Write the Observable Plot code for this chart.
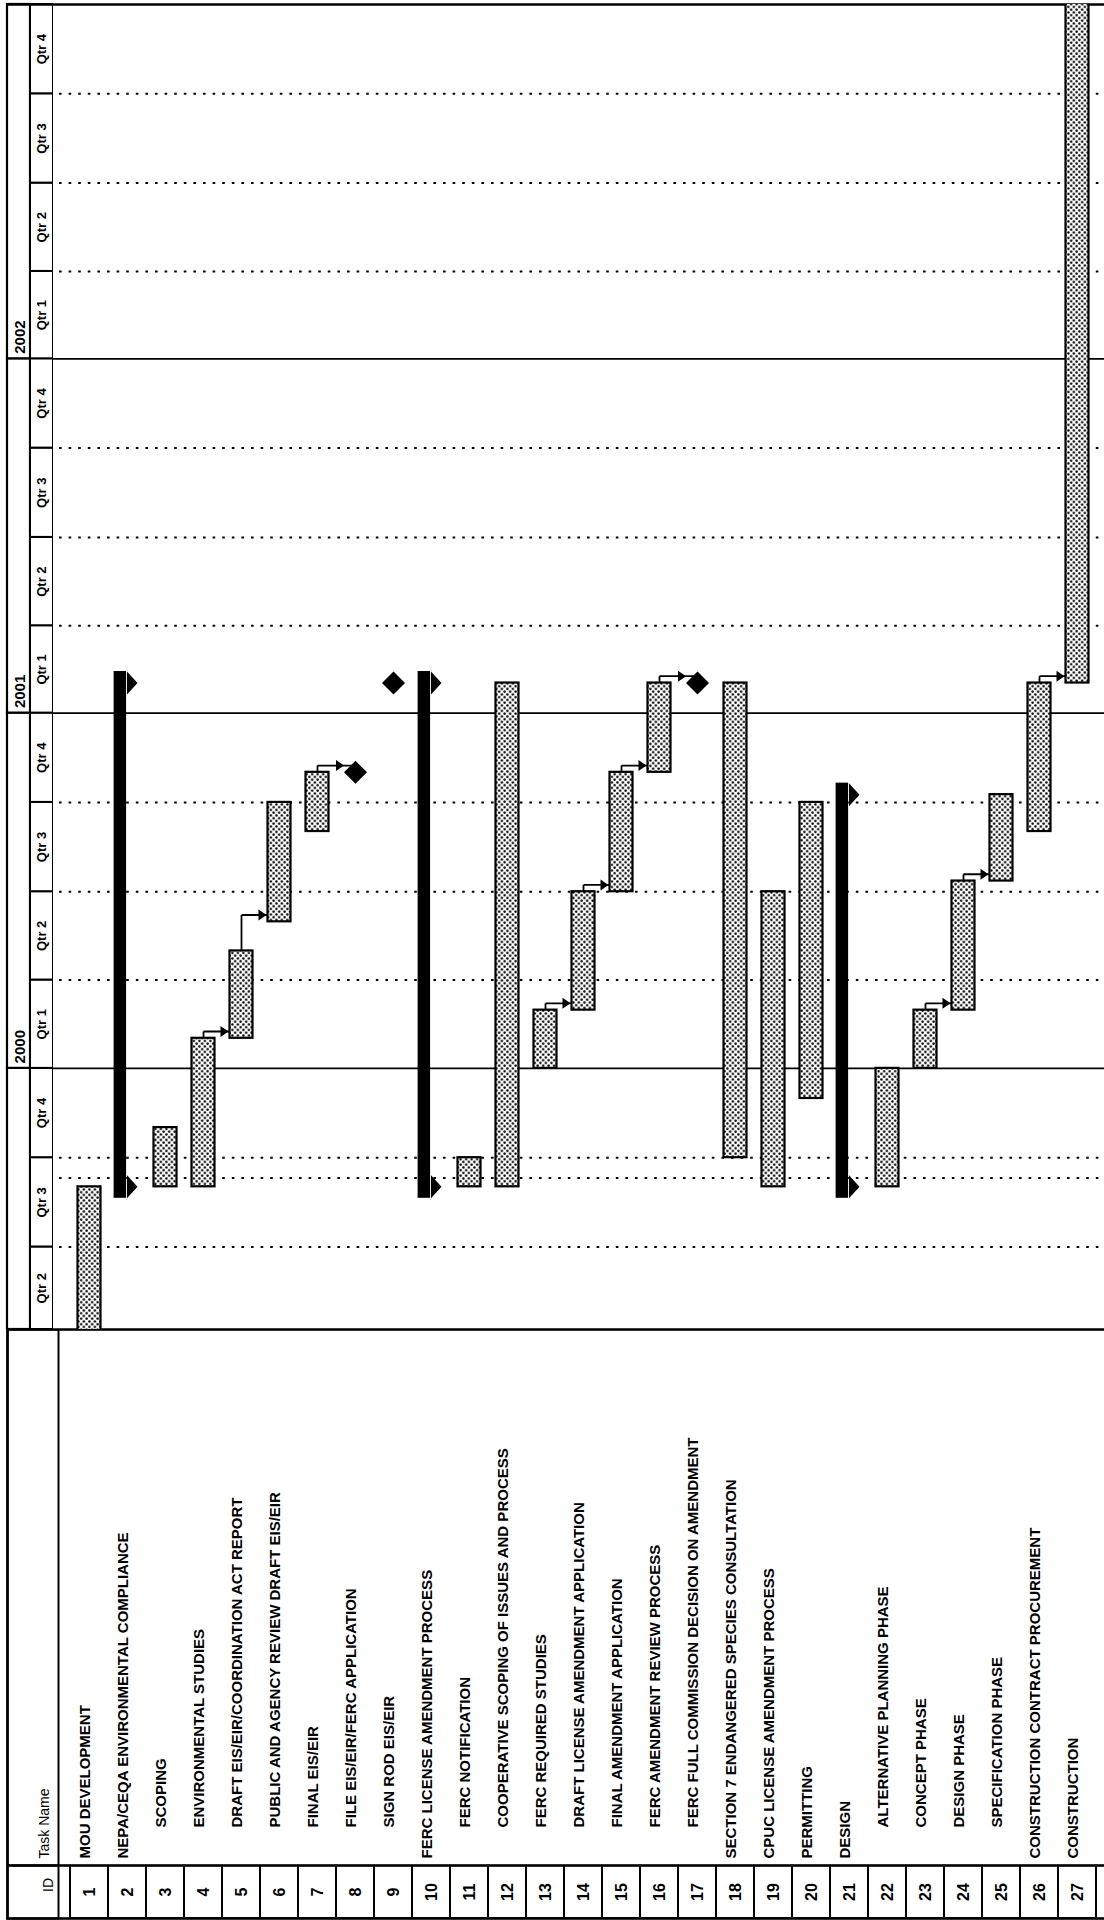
<!DOCTYPE html>
<html><head><meta charset="utf-8">
<script src="https://cdn.jsdelivr.net/npm/d3@7"></script>
<script src="https://cdn.jsdelivr.net/npm/@observablehq/plot@0.6"></script>
<style>
html,body{margin:0;padding:0;background:#fff;}
#wrap{position:relative;width:1104px;height:1920px;overflow:hidden;background:#fff;}
#wrap svg{position:absolute;left:0;}
</style></head><body><div id="wrap"></div>
<script>
// ---------- data ----------
const taskIds = [1,2,3,4,5,6,7,8,9,10,11,12,13,14,15,16,17,18,19,20,21,22,23,24,25,26,27];
const taskNames = [
  "MOU DEVELOPMENT",
  "NEPA/CEQA ENVIRONMENTAL COMPLIANCE",
  "SCOPING",
  "ENVIRONMENTAL STUDIES",
  "DRAFT EIS/EIR/COORDINATION ACT REPORT",
  "PUBLIC AND AGENCY REVIEW DRAFT EIS/EIR",
  "FINAL EIS/EIR",
  "FILE EIS/EIR/FERC APPLICATION",
  "SIGN ROD EIS/EIR",
  "FERC LICENSE AMENDMENT PROCESS",
  "FERC NOTIFICATION",
  "COOPERATIVE SCOPING OF ISSUES AND PROCESS",
  "FERC REQUIRED STUDIES",
  "DRAFT LICENSE AMENDMENT APPLICATION",
  "FINAL AMENDMENT APPLICATION",
  "FERC AMENDMENT REVIEW PROCESS",
  "FERC FULL COMMISSION DECISION ON AMENDMENT",
  "SECTION 7 ENDANGERED SPECIES CONSULTATION",
  "CPUC LICENSE AMENDMENT PROCESS",
  "PERMITTING",
  "DESIGN",
  "ALTERNATIVE PLANNING PHASE",
  "CONCEPT PHASE",
  "DESIGN PHASE",
  "SPECIFICATION PHASE",
  "CONSTRUCTION CONTRACT PROCUREMENT",
  "CONSTRUCTION"
];
const taskLevels = [1,1,2,2,2,2,2,2,2,1,2,2,2,2,2,2,2,1,1,1,1,2,2,2,2,1,1];
const taskTypes = ["task","summary","task","task","task","task","task","milestone","milestone",
  "summary","task","task","task","task","task","task","milestone","task","task","task",
  "summary","task","task","task","task","task","task"];
const taskStarts = ["1999-04-01","1999-09-01","1999-09-01","1999-09-01","2000-02-01","2000-05-31","2000-09-01","2000-11-01","2001-02-01",
  "1999-09-01","1999-09-01","1999-09-01","2000-01-01","2000-03-01","2000-07-01","2000-11-01","2001-02-01","1999-10-01","1999-09-01","1999-12-01",
  "1999-09-01","1999-09-01","2000-01-01","2000-03-01","2000-07-12","2000-09-01","2001-02-01"];
const taskEnds = ["1999-09-01","2001-02-01","1999-11-01","2000-02-01","2000-05-01","2000-10-01","2000-11-01","2000-11-01","2001-02-01",
  "2001-02-01","1999-10-01","2001-02-01","2000-03-01","2000-07-01","2000-11-01","2001-02-01","2001-02-01","2001-02-01","2000-07-01","2000-10-01",
  "2000-10-09","2000-01-01","2000-03-01","2000-07-12","2000-10-09","2001-02-01","2003-06-30"];
const links = [[4,5],[5,6],[7,8],[13,14],[14,15],[15,16],[16,17],[23,24],[24,25],[26,27]];

const quarterStarts = ["1999-04-01","1999-07-01","1999-10-01","2000-01-01","2000-04-01","2000-07-01","2000-10-01",
  "2001-01-01","2001-04-01","2001-07-01","2001-10-01","2002-01-01","2002-04-01","2002-07-01","2002-10-01"];
const quarterLabels = ["Qtr 2","Qtr 3","Qtr 4","Qtr 1","Qtr 2","Qtr 3","Qtr 4",
  "Qtr 1","Qtr 2","Qtr 3","Qtr 4","Qtr 1","Qtr 2","Qtr 3","Qtr 4"];
const yearStarts = ["1999-01-01","2000-01-01","2001-01-01","2002-01-01"];
const yearLabels = ["1999","2000","2001","2002"];
const statusDate = "1999-09-10";
const chartStart = "1999-04-07";
const chartEnd = "2003-01-01";

// ---------- derived tables ----------
const d0 = new Date(chartStart), d1 = new Date(chartEnd);
const tasks = taskIds.map((id, i) => ({
  id, name: taskNames[i], level: taskLevels[i], type: taskTypes[i],
  start: new Date(taskStarts[i]), end: new Date(taskEnds[i])
}));
const byId = new Map(tasks.map(t => [t.id, t]));
const linkData = links.map(([a, b]) => {
  const p = byId.get(a), s = byId.get(b);
  return {from: a, to: b, predEnd: p.end, level: d3.utcDay.offset(s.start, 7), toType: s.type};
});
const qDates = quarterStarts.map(s => new Date(s));
const quarterCells = qDates.map((q, i) => {
  const start = q < d0 ? d0 : q;
  const end = i + 1 < qDates.length ? qDates[i + 1] : d1;
  return {start, end, mid: new Date((+start + +end) / 2), label: quarterLabels[i]};
});
const yDates = yearStarts.map(s => new Date(s));
const yearCells = yDates.map((y, i) => ({
  start: y < d0 ? d0 : y,
  end: i + 1 < yDates.length ? yDates[i + 1] : d1,
  label: yearLabels[i], visible: y >= d0
}));
const inside = d => d > d0 && d < d1;
const dottedGrid = qDates.filter(d => inside(d) && d.getUTCMonth() !== 0);
const solidGrid = qDates.filter(d => inside(d) && d.getUTCMonth() === 0);

// ---------- layout ----------
const W = 1104, chartH = 1329, nameH = 536, idH = 55;
const FONT = "'Liberation Sans', Arial, Helvetica, sans-serif";
const xRows = {type: "band", domain: taskIds, range: [58.3, 1108.6], padding: 0, axis: null};
const yTime = {type: "utc", domain: [d0, d1], axis: null};
const baseStyle = {fontFamily: FONT, background: "transparent", color: "black"};

const capSymbol = {draw(c) { c.moveTo(-0.5, -11.5); c.lineTo(10, 0); c.lineTo(-0.5, 11.5); c.closePath(); }};
const diamondSymbol = {draw(c) { c.moveTo(0, -11.5); c.lineTo(11.5, 0); c.lineTo(0, 11.5); c.lineTo(-11.5, 0); c.closePath(); }};
const arrowToBar = {draw(c) { c.moveTo(-13, 0); c.lineTo(-21, -5.5); c.lineTo(-21, 5.5); c.closePath(); }};
const arrowToMilestone = {draw(c) { c.moveTo(-11.5, 0); c.lineTo(-19.5, -5.5); c.lineTo(-19.5, 5.5); c.closePath(); }};

// ---------- chart ----------
const chart = Plot.plot({
  width: W, height: chartH, marginLeft: 53, marginRight: 0, marginTop: 4, marginBottom: 0,
  x: xRows, y: yTime, style: baseStyle,
  marks: [
    Plot.ruleY(dottedGrid, {stroke: "black", strokeWidth: 2, strokeDasharray: "2.6,7", insetLeft: 6}),
    Plot.ruleY([new Date(statusDate)], {stroke: "black", strokeWidth: 2, strokeDasharray: "2.6,7", insetLeft: 6}),
    Plot.ruleY(solidGrid, {stroke: "black", strokeWidth: 1.8}),
    Plot.ruleY([d0, d1], {stroke: "black", strokeWidth: 2.6}),
    Plot.link(linkData, {x1: "from", x2: "from", y1: "predEnd", y2: "level", stroke: "black", strokeWidth: 1.8}),
    Plot.link(linkData, {x1: "from", x2: "to", y1: "level", y2: "level", stroke: "black", strokeWidth: 1.8}),
    Plot.barY(tasks.filter(t => t.type === "task"), {
      x: "id", y1: "start", y2: "end", fill: "url(#stipple)", stroke: "black", strokeWidth: 2.2,
      insetLeft: 7.5, insetRight: 7.5, clip: true
    }),
    Plot.barY(tasks.filter(t => t.type === "summary"), {
      x: "id", y1: "start", y2: "end", fill: "black", insetLeft: 5.6, insetRight: 19.9, insetTop: -11.5, insetBottom: -11.5
    }),
    Plot.dot(tasks.filter(t => t.type === "summary"), {x: "id", y: "start", symbol: capSymbol, fill: "black", stroke: "none"}),
    Plot.dot(tasks.filter(t => t.type === "summary"), {x: "id", y: "end", symbol: capSymbol, fill: "black", stroke: "none"}),
    Plot.dot(tasks.filter(t => t.type === "milestone"), {x: "id", y: "start", symbol: diamondSymbol, fill: "black", stroke: "none"}),
    Plot.dot(linkData.filter(l => l.toType !== "milestone"), {x: "to", y: "level", symbol: arrowToBar, fill: "black", stroke: "none"}),
    Plot.dot(linkData.filter(l => l.toType === "milestone"), {x: "to", y: "level", symbol: arrowToMilestone, fill: "black", stroke: "none"})
  ]
});
// stipple pattern for task bars
{
  const ns = "http://www.w3.org/2000/svg";
  const defs = document.createElementNS(ns, "defs");
  const pat = document.createElementNS(ns, "pattern");
  pat.setAttribute("id", "stipple");
  pat.setAttribute("width", "5.5"); pat.setAttribute("height", "5.5");
  pat.setAttribute("patternUnits", "userSpaceOnUse");
  const bg = document.createElementNS(ns, "rect");
  bg.setAttribute("width", "5.5"); bg.setAttribute("height", "5.5"); bg.setAttribute("fill", "white");
  pat.appendChild(bg);
  for (const [cx, cy] of [[1.4, 1.4], [4.15, 4.15]]) {
    const c = document.createElementNS(ns, "circle");
    c.setAttribute("cx", cx); c.setAttribute("cy", cy); c.setAttribute("r", "1.25"); c.setAttribute("fill", "black");
    pat.appendChild(c);
  }
  defs.appendChild(pat);
  chart.insertBefore(defs, chart.firstChild);
}

// ---------- timescale header ----------
const header = Plot.plot({
  width: 53, height: chartH, marginLeft: 7, marginRight: 0, marginTop: 4, marginBottom: 0,
  x: {type: "band", domain: ["year", "quarter"], range: [7, 53], padding: 0, axis: null},
  y: yTime, style: baseStyle,
  marks: [
    Plot.barY(yearCells, {x: () => "year", y1: "start", y2: "end", fill: "white", stroke: "black", strokeWidth: 2.2}),
    Plot.barY(quarterCells, {x: () => "quarter", y1: "start", y2: "end", fill: "white", stroke: "black", strokeWidth: 2}),
    Plot.text(yearCells.filter(d => d.visible), {
      x: () => "year", y: "start", text: "label", rotate: -90, textAnchor: "start", dy: -5, dx: 1,
      fontSize: 15, fontWeight: "bold", fill: "black"
    }),
    Plot.text(quarterCells, {
      x: () => "quarter", y: "mid", text: "label", rotate: -90, textAnchor: "middle",
      fontSize: 13, fontWeight: "bold", fill: "black"
    }),
    Plot.ruleY([d0, d1], {stroke: "black", strokeWidth: 2.6})
  ]
});

// ---------- task name table ----------
const names = Plot.plot({
  width: W, height: nameH, marginLeft: 58, marginRight: 0, marginTop: 0, marginBottom: 0,
  x: xRows, style: baseStyle,
  marks: [
    Plot.frame({insetLeft: -51, insetRight: -8, stroke: "black", strokeWidth: 2.6}),
    Plot.frame({insetLeft: -51, insetRight: W - 58, stroke: "black", strokeWidth: 2}),
    Plot.text(tasks.filter(t => t.level === 1), {
      x: "id", text: "name", frameAnchor: "bottom", rotate: -90, textAnchor: "start", dy: -7,
      fontSize: 15, fontWeight: "bold", fill: "black"
    }),
    Plot.text(tasks.filter(t => t.level === 2), {
      x: "id", text: "name", frameAnchor: "bottom", rotate: -90, textAnchor: "start", dy: -38,
      fontSize: 15, fontWeight: "bold", fill: "black"
    }),
    Plot.text(["Task Name"], {
      text: d => d, frameAnchor: "bottom-left", dx: -10, dy: -7, rotate: -90, textAnchor: "start",
      fontSize: 14, fill: "black"
    })
  ]
});

// ---------- ID table ----------
const ids = Plot.plot({
  width: W, height: idH, marginLeft: 58, marginRight: 0, marginTop: 0, marginBottom: 2,
  x: xRows, style: baseStyle,
  marks: [
    Plot.cell(tasks, {x: "id", fill: "none", stroke: "black", strokeWidth: 2}),
    Plot.frame({insetLeft: -51, insetRight: -8, stroke: "black", strokeWidth: 2.6}),
    Plot.frame({insetLeft: -51, insetRight: W - 58, stroke: "black", strokeWidth: 2}),
    Plot.text(tasks, {
      x: "id", text: d => String(d.id), frameAnchor: "middle", rotate: -90,
      fontSize: 16, fontWeight: "bold", fill: "black"
    }),
    Plot.text(["ID"], {
      text: d => d, frameAnchor: "left", dx: -10, rotate: -90, fontSize: 14, fill: "black"
    })
  ]
});

const wrap = document.getElementById("wrap");
chart.style.top = "0px";
header.style.top = "0px";
names.style.top = chartH + "px";
ids.style.top = (chartH + nameH) + "px";
wrap.appendChild(chart);
wrap.appendChild(header);
wrap.appendChild(names);
wrap.appendChild(ids);
</script></body></html>
